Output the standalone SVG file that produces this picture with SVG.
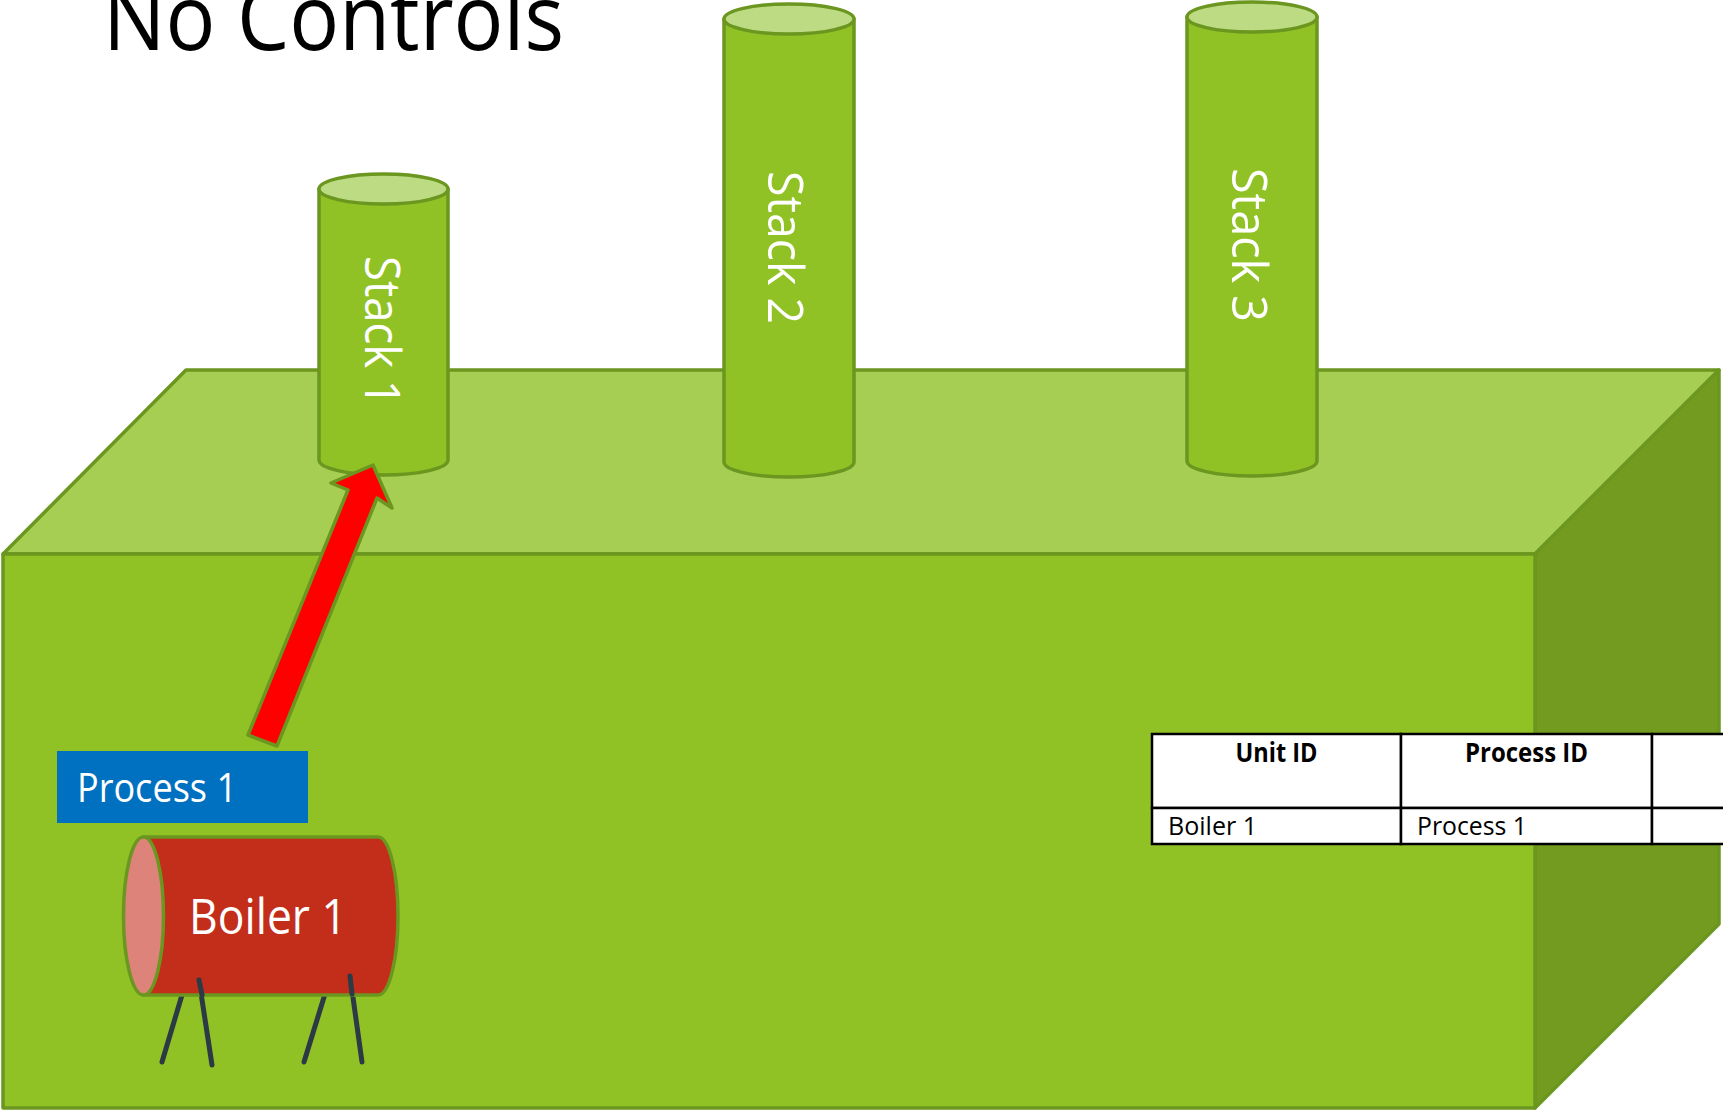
<svg xmlns="http://www.w3.org/2000/svg" width="1723" height="1113" viewBox="0 0 1723 1113">
  <style>
    .edge { stroke: #6B961F; stroke-width: 3.5; stroke-linejoin: round; }
    .txt { font-family: "Open Sans", "Noto Sans", "Liberation Sans", sans-serif; }
    .white { fill: #FFFFFF; }
    .stack-body { fill: #90C226; }
    .stack-top { fill: #BCDB83; }
    .cell { fill: #FFFFFF; stroke: #000000; stroke-width: 2.5; }
    .leg { stroke: #2B3A44; stroke-width: 5; stroke-linecap: round; fill: none; }
  </style>

  <rect width="1723" height="1113" fill="#FFFFFF"/>

  <!-- title -->
  <text class="txt" x="103" y="50" font-size="92" fill="#000000" textLength="461" lengthAdjust="spacingAndGlyphs">No Controls</text>

  <!-- plant building (box) -->
  <g id="building">
    <polygon class="edge" points="3,554 186,370 1719,370 1535,554" fill="#A6CE53"/>
    <polygon class="edge" points="1535,554 1719,370 1719,924 1535,1108" fill="#739B1F"/>
    <rect class="edge" x="3" y="554" width="1532" height="554" fill="#90C226"/>
  </g>

  <!-- stacks -->
  <g id="stack1">
    <path class="edge stack-body" d="M319,189 L319,460 A64.5,15 0 0 0 448,460 L448,189 Z"/>
    <ellipse class="edge stack-top" cx="383.5" cy="189" rx="64.5" ry="15"/>
    <text class="txt white" transform="translate(365,331) rotate(90)" text-anchor="middle" font-size="50" textLength="150" lengthAdjust="spacingAndGlyphs">Stack 1</text>
  </g>
  <g id="stack2">
    <path class="edge stack-body" d="M724,19 L724,462 A65,15 0 0 0 854,462 L854,19 Z"/>
    <ellipse class="edge stack-top" cx="789" cy="19" rx="65" ry="15"/>
    <text class="txt white" transform="translate(768,247.5) rotate(90)" text-anchor="middle" font-size="50" textLength="153" lengthAdjust="spacingAndGlyphs">Stack 2</text>
  </g>
  <g id="stack3">
    <path class="edge stack-body" d="M1187,17 L1187,461 A65,15 0 0 0 1317,461 L1317,17 Z"/>
    <ellipse class="edge stack-top" cx="1252" cy="17" rx="65" ry="15"/>
    <text class="txt white" transform="translate(1232,245) rotate(90)" text-anchor="middle" font-size="50" textLength="154" lengthAdjust="spacingAndGlyphs">Stack 3</text>
  </g>

  <!-- flow from process to stack -->
  <g id="connectors">
    <polygon class="edge" fill="#FF0000" points="248,735 277,746 377,498 392,508 373,465 331,483 348,490"/>
  </g>

  <!-- process label -->
  <g id="process1">
    <rect x="57" y="751" width="251" height="72" fill="#0070C0"/>
    <text class="txt white" x="77" y="802" font-size="40" textLength="160" lengthAdjust="spacingAndGlyphs">Process 1</text>
  </g>

  <!-- boiler -->
  <g id="boiler1">
    <line class="leg" x1="182" y1="995" x2="162" y2="1062"/>
    <line class="leg" x1="199" y1="980" x2="212" y2="1065"/>
    <line class="leg" x1="325" y1="994" x2="304" y2="1062"/>
    <line class="leg" x1="350" y1="976" x2="362" y2="1062"/>
    <path class="edge" fill="#C22E1A" d="M143.5,837 L378,837 A20,79 0 0 1 378,995 L143.5,995 Z"/>
    <ellipse class="edge" cx="143.5" cy="916" rx="20" ry="79" fill="#DE837A"/>
    <line class="leg" x1="199" y1="980" x2="202" y2="995"/>
    <line class="leg" x1="350" y1="976" x2="352" y2="994"/>
    <text class="txt white" x="189" y="934" font-size="50" textLength="158" lengthAdjust="spacingAndGlyphs">Boiler 1</text>
  </g>

  <!-- unit/process table -->
  <g id="table">
    <rect class="cell" x="1152" y="734" width="249" height="74"/>
    <rect class="cell" x="1401" y="734" width="251" height="74"/>
    <rect class="cell" x="1652" y="734" width="90" height="74"/>
    <rect class="cell" x="1152" y="808" width="249" height="36"/>
    <rect class="cell" x="1401" y="808" width="251" height="36"/>
    <rect class="cell" x="1652" y="808" width="90" height="36"/>
    <text class="txt" x="1276.5" y="762" font-size="26" font-weight="bold" text-anchor="middle" textLength="82" lengthAdjust="spacingAndGlyphs">Unit ID</text>
    <text class="txt" x="1526.5" y="762" font-size="26" font-weight="bold" text-anchor="middle" textLength="123" lengthAdjust="spacingAndGlyphs">Process ID</text>
    <text class="txt" x="1168" y="835" font-size="26" textLength="89" lengthAdjust="spacingAndGlyphs">Boiler 1</text>
    <text class="txt" x="1417" y="835" font-size="26" textLength="110" lengthAdjust="spacingAndGlyphs">Process 1</text>
  </g>
</svg>
